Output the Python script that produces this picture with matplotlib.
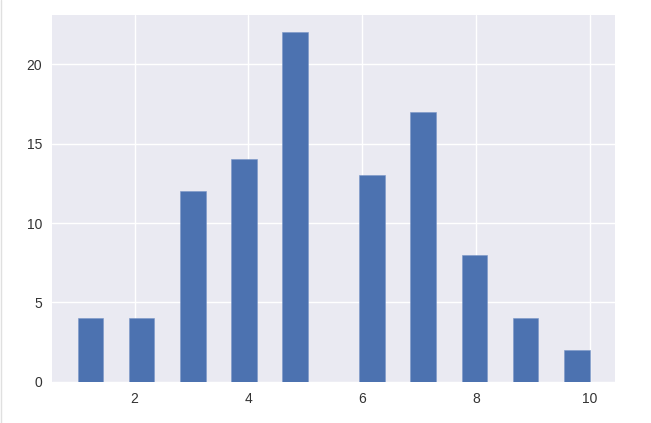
import matplotlib
matplotlib.use("Agg")
import matplotlib.pyplot as plt
from matplotlib.lines import Line2D

# integer values and how often each one occurs
values = [1, 2, 3, 4, 5, 6, 7, 8, 9, 10]
counts = [4, 4, 12, 14, 22, 13, 17, 8, 4, 2]

plt.style.use("seaborn-v0_8")
plt.rcParams['font.family'] = ['Liberation Sans', 'DejaVu Sans']

fig = plt.figure(figsize=(6.51, 4.23), dpi=100)
ax = fig.add_axes([0.080, 0.097, 0.865, 0.868])

ax.hist(values, bins=20, weights=counts, color="#4C72B0", edgecolor="#7a96c8", linewidth=0.4)

ax.set_xticks([2, 4, 6, 8, 10])
ax.set_yticks([0, 5, 10, 15, 20])
ax.tick_params(labelsize=10, labelcolor="#333333")

# faint border at the left edge of the screenshot
fig.add_artist(Line2D([0.002, 0.002], [0, 1], transform=fig.transFigure, color="#e0e0e0", lw=1))

fig.savefig("out.png", dpi=100)
